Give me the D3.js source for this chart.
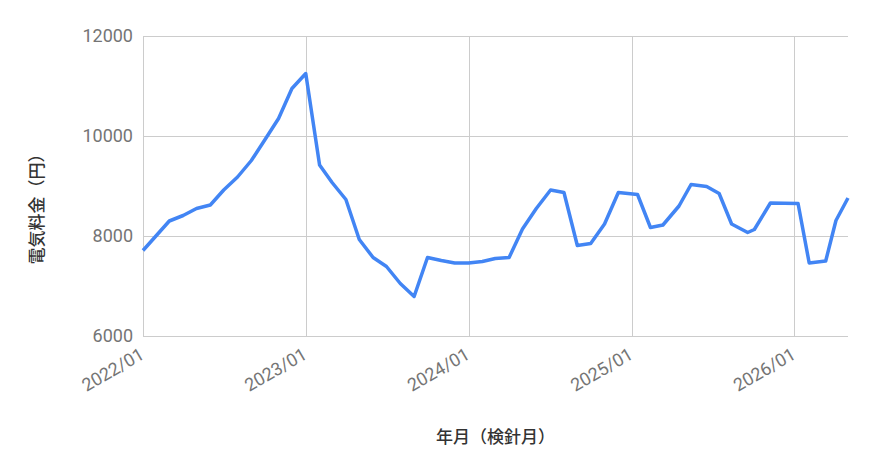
<!DOCTYPE html>
<html>
<head>
<meta charset="utf-8">
<script src="https://cdn.jsdelivr.net/npm/d3@7"></script>
<style>
  body { margin: 0; background: #fff; }
  text { font-family: Roboto, "Noto Sans CJK JP", sans-serif; }
</style>
</head>
<body>
<div id="chart"></div>
<script>
// 検針日 (meter reading dates) and bill amounts
var readDates = ["2022-01-01","2022-03-01","2022-04-01","2022-05-01","2022-06-01","2022-07-01","2022-08-01","2022-09-01","2022-10-01","2022-11-01","2022-12-01",
    "2023-01-01","2023-02-01","2023-03-01","2023-04-01","2023-05-01","2023-06-01","2023-07-01","2023-08-01","2023-09-01","2023-10-01","2023-11-01","2023-12-01",
    "2024-01-01","2024-02-01","2024-03-01","2024-04-01","2024-05-01","2024-06-01","2024-07-03","2024-08-02","2024-09-01","2024-10-01","2024-11-01","2024-12-02",
    "2025-01-14","2025-02-12","2025-03-12","2025-04-17","2025-05-14","2025-06-18","2025-07-16","2025-08-13","2025-09-18","2025-10-03","2025-11-08",
    "2026-01-09","2026-02-03","2026-03-12","2026-04-04","2026-05-01"];
var bills = [7710, 8300, 8410, 8550, 8620, 8920, 9180, 9510, 9920, 10350, 10950,
    11250, 9420, 9070, 8730, 7930, 7570, 7390, 7050, 6790, 7570, 7510, 7460,
    7460, 7490, 7550, 7570, 8140, 8550, 8920, 8870, 7810, 7850, 8240, 8870,
    8830, 8170, 8220, 8600, 9030, 8990, 8850, 8240, 8070, 8130, 8660,
    8650, 7460, 7500, 8310, 8760];
var yTicks = [6000, 8000, 10000, 12000];
var xTickLabels = ["2022/01", "2023/01", "2024/01", "2025/01", "2026/01"];
var xTitle = "年月（検針月）";
var yTitle = "電気料金（円）";

var margin = { top: 36, right: 24, bottom: 136, left: 143 },
    width = 872 - margin.left - margin.right,
    height = 472 - margin.top - margin.bottom;

var parse = d3.timeParse("%Y-%m-%d");
var data = readDates.map(function(d, i) { return { date: parse(d), value: bills[i] }; });
var xTickDates = xTickLabels.map(function(s) { return d3.timeParse("%Y/%m")(s); });

var x = d3.scaleTime()
    .domain(d3.extent(data, function(d) { return d.date; }))
    .range([0, width]);
var y = d3.scaleLinear()
    .domain([6000, 12000])
    .range([height, 0]);

var svg = d3.select("#chart").append("svg")
    .attr("width", 872)
    .attr("height", 472)
    .append("g")
    .attr("transform", "translate(" + margin.left + "," + margin.top + ")");

// horizontal grid + y labels
var yAxis = d3.axisLeft(y).tickValues(yTicks).tickSize(-width).tickPadding(10)
    .tickFormat(d3.format("d"));
var gy = svg.append("g").call(yAxis);
gy.select(".domain").remove();
gy.selectAll(".tick line").attr("stroke", "#cccccc").attr("shape-rendering", "crispEdges");
gy.selectAll(".tick text")
    .attr("fill", "#757575")
    .style("font-size", "18px");

// vertical grid + x labels
var xAxis = d3.axisBottom(x).tickValues(xTickDates).tickSize(-height)
    .tickFormat(d3.timeFormat("%Y/%m"));
var gx = svg.append("g")
    .attr("transform", "translate(0," + height + ")")
    .call(xAxis);
gx.select(".domain").attr("stroke", "#cccccc").attr("shape-rendering", "crispEdges")
    .attr("d", "M0,0H" + width);
gx.selectAll(".tick line").attr("stroke", "#cccccc").attr("shape-rendering", "crispEdges");
gx.selectAll(".tick text")
    .attr("fill", "#757575")
    .style("font-size", "18px")
    .attr("text-anchor", "end")
    .attr("x", 0).attr("y", 0).attr("dy", 0)
    .attr("transform", "translate(2,22) rotate(-30)");

// line
var line = d3.line()
    .x(function(d) { return x(d.date); })
    .y(function(d) { return y(d.value); });

svg.append("path")
    .datum(data)
    .attr("fill", "none")
    .attr("stroke", "#4285f4")
    .attr("stroke-width", 3.5)
    .attr("stroke-linejoin", "round")
    .attr("d", line);

// axis titles
svg.append("text")
    .attr("x", width / 2)
    .attr("y", height + 107)
    .attr("text-anchor", "middle")
    .attr("fill", "#333")
    .style("font-size", "17px")
    .style("font-weight", "500")
    .text(xTitle);

svg.append("text")
    .attr("transform", "translate(" + (-100) + "," + (height / 2 + 19) + ") rotate(-90)")
    .attr("text-anchor", "middle")
    .attr("fill", "#333")
    .style("font-size", "17px")
    .style("font-weight", "500")
    .text(yTitle);
</script>
</body>
</html>
